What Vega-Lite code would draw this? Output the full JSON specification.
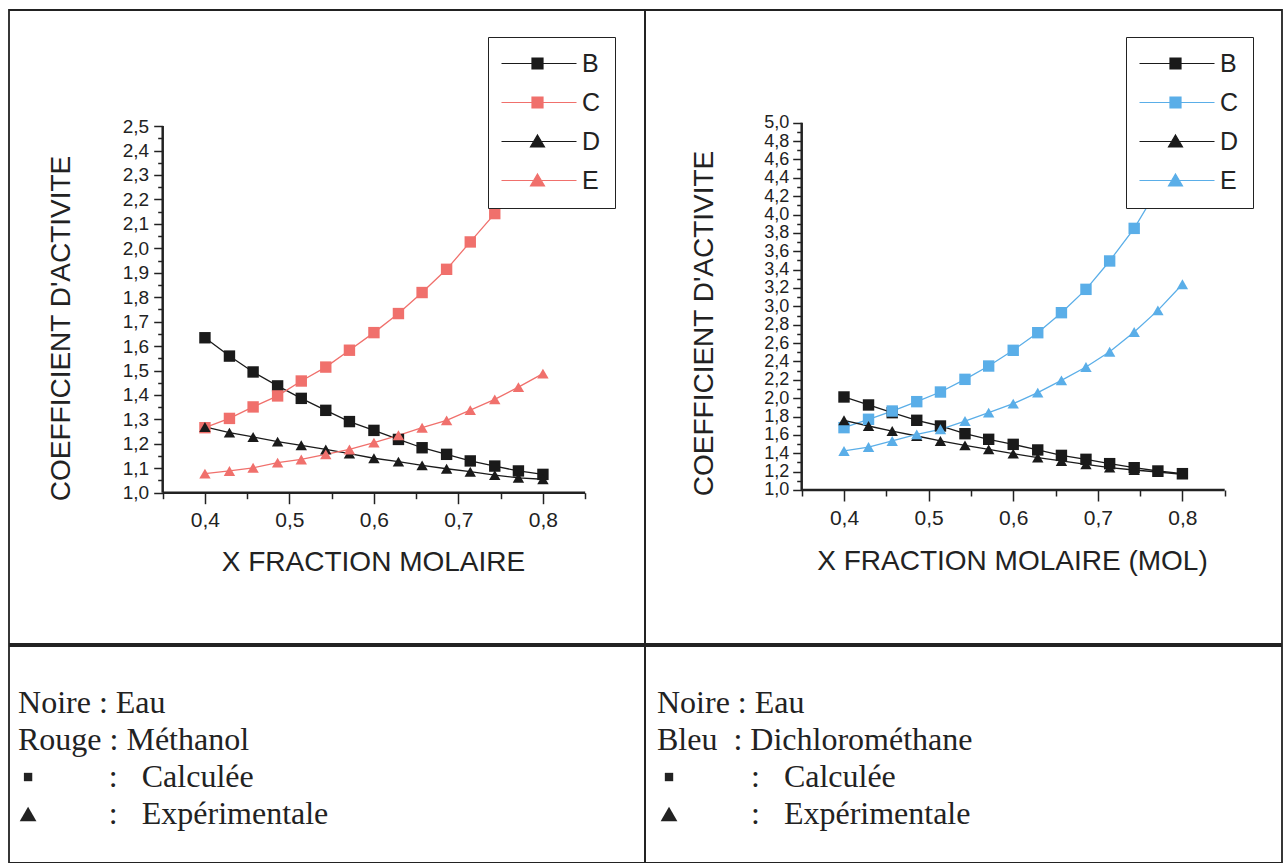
{
  "$schema": "https://vega.github.io/schema/vega-lite/v6.json",
  "padding": {"left": 8, "top": 9, "right": 0, "bottom": 0},
  "background": "white",
  "spacing": 0,
  "config": {
    "view": {"stroke": "#222", "strokeWidth": 1.8},
    "axis": {"grid": false, "domain": false, "labelFont": "Liberation Sans", "titleFont": "Liberation Sans", "labelColor": "#222", "titleColor": "#222", "tickColor": "#222", "titleFontWeight": "normal", "labelOverlap": false, "labelFlush": false, "tickWidth": 1.5}
  },
  "datasets": {
    "methanol": [
      {"x":0.4,"serie":"B","y":1.634},{"x":0.429,"serie":"B","y":1.559},{"x":0.457,"serie":"B","y":1.494},{"x":0.486,"serie":"B","y":1.437},{"x":0.514,"serie":"B","y":1.386},{"x":0.543,"serie":"B","y":1.337},{"x":0.571,"serie":"B","y":1.291},{"x":0.6,"serie":"B","y":1.255},{"x":0.629,"serie":"B","y":1.218},{"x":0.657,"serie":"B","y":1.184},{"x":0.686,"serie":"B","y":1.157},{"x":0.714,"serie":"B","y":1.13},{"x":0.743,"serie":"B","y":1.109},{"x":0.771,"serie":"B","y":1.089},{"x":0.8,"serie":"B","y":1.075},
      {"x":0.4,"serie":"C","y":1.266},{"x":0.429,"serie":"C","y":1.304},{"x":0.457,"serie":"C","y":1.351},{"x":0.486,"serie":"C","y":1.396},{"x":0.514,"serie":"C","y":1.457},{"x":0.543,"serie":"C","y":1.514},{"x":0.571,"serie":"C","y":1.583},{"x":0.6,"serie":"C","y":1.655},{"x":0.629,"serie":"C","y":1.733},{"x":0.657,"serie":"C","y":1.819},{"x":0.686,"serie":"C","y":1.914},{"x":0.714,"serie":"C","y":2.026},{"x":0.743,"serie":"C","y":2.142},{"x":0.771,"serie":"C","y":2.28},{"x":0.8,"serie":"C","y":2.44},
      {"x":0.4,"serie":"D","y":1.269},{"x":0.429,"serie":"D","y":1.246},{"x":0.457,"serie":"D","y":1.228},{"x":0.486,"serie":"D","y":1.209},{"x":0.514,"serie":"D","y":1.194},{"x":0.543,"serie":"D","y":1.177},{"x":0.571,"serie":"D","y":1.16},{"x":0.6,"serie":"D","y":1.141},{"x":0.629,"serie":"D","y":1.127},{"x":0.657,"serie":"D","y":1.112},{"x":0.686,"serie":"D","y":1.098},{"x":0.714,"serie":"D","y":1.086},{"x":0.743,"serie":"D","y":1.072},{"x":0.771,"serie":"D","y":1.061},{"x":0.8,"serie":"D","y":1.055},
      {"x":0.4,"serie":"E","y":1.078},{"x":0.429,"serie":"E","y":1.089},{"x":0.457,"serie":"E","y":1.102},{"x":0.486,"serie":"E","y":1.123},{"x":0.514,"serie":"E","y":1.136},{"x":0.543,"serie":"E","y":1.157},{"x":0.571,"serie":"E","y":1.177},{"x":0.6,"serie":"E","y":1.205},{"x":0.629,"serie":"E","y":1.235},{"x":0.657,"serie":"E","y":1.266},{"x":0.686,"serie":"E","y":1.296},{"x":0.714,"serie":"E","y":1.338},{"x":0.743,"serie":"E","y":1.382},{"x":0.771,"serie":"E","y":1.432},{"x":0.8,"serie":"E","y":1.487}
    ],
    "dichloro": [
      {"x":0.4,"serie":"B","y":2.013},{"x":0.429,"serie":"B","y":1.926},{"x":0.457,"serie":"B","y":1.842},{"x":0.486,"serie":"B","y":1.759},{"x":0.514,"serie":"B","y":1.697},{"x":0.543,"serie":"B","y":1.613},{"x":0.571,"serie":"B","y":1.552},{"x":0.6,"serie":"B","y":1.497},{"x":0.629,"serie":"B","y":1.436},{"x":0.657,"serie":"B","y":1.377},{"x":0.686,"serie":"B","y":1.334},{"x":0.714,"serie":"B","y":1.287},{"x":0.743,"serie":"B","y":1.243},{"x":0.771,"serie":"B","y":1.207},{"x":0.8,"serie":"B","y":1.178},
      {"x":0.4,"serie":"C","y":1.679},{"x":0.429,"serie":"C","y":1.77},{"x":0.457,"serie":"C","y":1.86},{"x":0.486,"serie":"C","y":1.962},{"x":0.514,"serie":"C","y":2.067},{"x":0.543,"serie":"C","y":2.205},{"x":0.571,"serie":"C","y":2.35},{"x":0.6,"serie":"C","y":2.521},{"x":0.629,"serie":"C","y":2.713},{"x":0.657,"serie":"C","y":2.931},{"x":0.686,"serie":"C","y":3.185},{"x":0.714,"serie":"C","y":3.494},{"x":0.743,"serie":"C","y":3.849},{"x":0.771,"serie":"C","y":4.28},{"x":0.8,"serie":"C","y":4.78},
      {"x":0.4,"serie":"D","y":1.759},{"x":0.429,"serie":"D","y":1.697},{"x":0.457,"serie":"D","y":1.642},{"x":0.486,"serie":"D","y":1.588},{"x":0.514,"serie":"D","y":1.534},{"x":0.543,"serie":"D","y":1.486},{"x":0.571,"serie":"D","y":1.443},{"x":0.6,"serie":"D","y":1.396},{"x":0.629,"serie":"D","y":1.352},{"x":0.657,"serie":"D","y":1.316},{"x":0.686,"serie":"D","y":1.279},{"x":0.714,"serie":"D","y":1.243},{"x":0.743,"serie":"D","y":1.218},{"x":0.771,"serie":"D","y":1.196},{"x":0.8,"serie":"D","y":1.171},
      {"x":0.4,"serie":"E","y":1.425},{"x":0.429,"serie":"E","y":1.468},{"x":0.457,"serie":"E","y":1.534},{"x":0.486,"serie":"E","y":1.606},{"x":0.514,"serie":"E","y":1.661},{"x":0.543,"serie":"E","y":1.751},{"x":0.571,"serie":"E","y":1.842},{"x":0.6,"serie":"E","y":1.94},{"x":0.629,"serie":"E","y":2.06},{"x":0.657,"serie":"E","y":2.194},{"x":0.686,"serie":"E","y":2.339},{"x":0.714,"serie":"E","y":2.506},{"x":0.743,"serie":"E","y":2.72},{"x":0.771,"serie":"E","y":2.956},{"x":0.8,"serie":"E","y":3.24}
    ],
    "texteGauche": [
      {"ligne":1,"texte":"Noire : Eau"},
      {"ligne":2,"texte":"Rouge : Méthanol"},
      {"ligne":3,"symbole":"square","texte":":\u00a0\u00a0\u00a0Calculée"},
      {"ligne":4,"symbole":"triangle-up","texte":":\u00a0\u00a0\u00a0Expérimentale"}
    ],
    "texteDroite": [
      {"ligne":1,"texte":"Noire : Eau"},
      {"ligne":2,"texte":"Bleu\u00a0\u00a0: Dichlorométhane"},
      {"ligne":3,"symbole":"square","texte":":\u00a0\u00a0\u00a0Calculée"},
      {"ligne":4,"symbole":"triangle-up","texte":":\u00a0\u00a0\u00a0Expérimentale"}
    ]
  },
  "resolve": {"scale": {"color": "independent", "shape": "independent"}, "legend": {"color": "independent", "shape": "independent"}},
  "vconcat": [
    {
      "hconcat": [
        {
          "width": 636, "height": 634,
          "data": {"name": "methanol"},
          "resolve": {"axis": {"x": "independent", "y": "independent"}},
          "layer": [
            {
              "data": {"values": [{}]},
              "mark": {"type": "rule", "color": "#222", "strokeWidth": 2.5},
              "encoding": {
                "x": {"datum": 0.35, "type": "quantitative", "scale": {"domain": [0.1681, 0.9208], "nice": false, "zero": false},
                  "axis": {"orient": "bottom", "offset": -151.3, "values": [0.4, 0.5, 0.6, 0.7, 0.8], "labelExpr": "replace(format(datum.value, '.1f'), '.', ',')", "tickSize": 11, "labelPadding": 6, "labelFontSize": 21, "title": "X FRACTION MOLAIRE", "titleFontSize": 28, "titleX": 364, "titleY": 78, "titleBaseline": "alphabetic", "titleAlign": "center"}},
                "y": {"datum": 1.0, "type": "quantitative", "scale": {"domain": [0.381, 2.975], "nice": false, "zero": false},
                  "axis": {"orient": "left", "offset": -153.7, "values": [1.0, 1.1, 1.2, 1.3, 1.4, 1.5, 1.6, 1.7, 1.8, 1.9, 2.0, 2.1, 2.2, 2.3, 2.4, 2.5], "labelExpr": "replace(format(datum.value, '.1f'), '.', ',')", "tickSize": 9, "labelPadding": 5, "labelFontSize": 19, "labelBaseline": "middle", "title": "COEFFICIENT D'ACTIVITE", "titleFontSize": 28, "titleX": -93, "titleY": 318, "titleAngle": -90, "titleBaseline": "alphabetic", "titleAlign": "center"}},
                "y2": {"datum": 2.5}
              }
            },
            {
              "data": {"values": [{}]},
              "mark": {"type": "rule", "color": "#222", "strokeWidth": 2.5},
              "encoding": {
                "x": {"datum": 0.35, "type": "quantitative", "scale": {"domain": [0.1681, 0.9208], "nice": false, "zero": false},
                  "axis": {"orient": "bottom", "offset": -151.3, "values": [0.35, 0.45, 0.55, 0.65, 0.75, 0.85], "labels": false, "tickSize": 6, "title": null}},
                "x2": {"datum": 0.85},
                "y": {"datum": 1.0, "type": "quantitative", "scale": {"domain": [0.381, 2.975], "nice": false, "zero": false},
                  "axis": {"orient": "left", "offset": -153.7, "values": [1.05, 1.15, 1.25, 1.35, 1.45, 1.55, 1.65, 1.75, 1.85, 1.95, 2.05, 2.15, 2.25, 2.35, 2.45], "labels": false, "tickSize": 5, "title": null}}
              }
            },
            {
              "mark": {"type": "line", "strokeWidth": 1.3},
              "encoding": {
                "x": {"field": "x", "type": "quantitative", "scale": {"domain": [0.1681, 0.9208], "nice": false, "zero": false}, "axis": null},
                "y": {"field": "y", "type": "quantitative", "scale": {"domain": [0.381, 2.975], "nice": false, "zero": false}, "axis": null},
                "color": {"field": "serie", "type": "nominal", "scale": {"domain": ["B", "C", "D", "E"], "range": ["#1a1a1a", "#f0706c", "#1a1a1a", "#f0706c"]},
                  "legend": {"orient": "none", "legendX": 479, "legendY": 27, "title": null, "fillColor": "white", "strokeColor": "#222", "padding": 14, "rowPadding": 13, "symbolSize": 400, "symbolOffset": 23, "labelOffset": 32, "labelFont": "Liberation Sans", "labelFontSize": 25, "labelColor": "#222", "symbolStrokeWidth": 1.2,
                    "symbolType": {"expr": "datum.value === 'B' || datum.value === 'C' ? 'M-3.6,0H3.9M-0.55,-0.55H0.55V0.55H-0.55Z' : 'M-3.6,0H3.9M0,-0.65L0.7,0.55H-0.7Z'"}}}
              }
            },
            {
              "transform": [{"filter": "datum.serie === 'B' || datum.serie === 'C'"}],
              "mark": {"type": "point", "shape": "square", "filled": true, "opacity": 1, "size": 130},
              "encoding": {
                "x": {"field": "x", "type": "quantitative", "scale": {"domain": [0.1681, 0.9208], "nice": false, "zero": false}, "axis": null},
                "y": {"field": "y", "type": "quantitative", "scale": {"domain": [0.381, 2.975], "nice": false, "zero": false}, "axis": null},
                "color": {"field": "serie", "type": "nominal", "scale": {"domain": ["B", "C", "D", "E"], "range": ["#1a1a1a", "#f0706c", "#1a1a1a", "#f0706c"]},
                  "legend": {"orient": "none", "legendX": 479, "legendY": 27, "title": null, "fillColor": "white", "strokeColor": "#222", "padding": 14, "rowPadding": 13, "symbolSize": 400, "symbolOffset": 23, "labelOffset": 32, "labelFont": "Liberation Sans", "labelFontSize": 25, "labelColor": "#222", "symbolStrokeWidth": 1.2,
                    "symbolType": {"expr": "datum.value === 'B' || datum.value === 'C' ? 'M-3.6,0H3.9M-0.55,-0.55H0.55V0.55H-0.55Z' : 'M-3.6,0H3.9M0,-0.65L0.7,0.55H-0.7Z'"}}}
              }
            },
            {
              "transform": [{"filter": "datum.serie === 'D' || datum.serie === 'E'"}],
              "mark": {"type": "point", "shape": "triangle-up", "filled": true, "opacity": 1, "size": 130},
              "encoding": {
                "x": {"field": "x", "type": "quantitative", "scale": {"domain": [0.1681, 0.9208], "nice": false, "zero": false}, "axis": null},
                "y": {"field": "y", "type": "quantitative", "scale": {"domain": [0.381, 2.975], "nice": false, "zero": false}, "axis": null},
                "color": {"field": "serie", "type": "nominal", "scale": {"domain": ["B", "C", "D", "E"], "range": ["#1a1a1a", "#f0706c", "#1a1a1a", "#f0706c"]},
                  "legend": {"orient": "none", "legendX": 479, "legendY": 27, "title": null, "fillColor": "white", "strokeColor": "#222", "padding": 14, "rowPadding": 13, "symbolSize": 400, "symbolOffset": 23, "labelOffset": 32, "labelFont": "Liberation Sans", "labelFontSize": 25, "labelColor": "#222", "symbolStrokeWidth": 1.2,
                    "symbolType": {"expr": "datum.value === 'B' || datum.value === 'C' ? 'M-3.6,0H3.9M-0.55,-0.55H0.55V0.55H-0.55Z' : 'M-3.6,0H3.9M0,-0.65L0.7,0.55H-0.7Z'"}}}
              }
            }
          ]
        },
        {
          "width": 637, "height": 634,
          "data": {"name": "dichloro"},
          "resolve": {"axis": {"x": "independent", "y": "independent"}},
          "layer": [
            {
              "data": {"values": [{}]},
              "mark": {"type": "rule", "color": "#222", "strokeWidth": 2.5},
              "encoding": {
                "x": {"datum": 0.35, "type": "quantitative", "scale": {"domain": [0.1648, 0.9177], "nice": false, "zero": false},
                  "axis": {"orient": "bottom", "offset": -154, "values": [0.4, 0.5, 0.6, 0.7, 0.8], "labelExpr": "replace(format(datum.value, '.1f'), '.', ',')", "tickSize": 11, "labelPadding": 6, "labelFontSize": 21, "title": "X FRACTION MOLAIRE (MOL)", "titleFontSize": 28, "titleX": 367, "titleY": 79, "titleBaseline": "alphabetic", "titleAlign": "center"}},
                "y": {"datum": 1.0, "type": "quantitative", "scale": {"domain": [-0.677, 6.227], "nice": false, "zero": false},
                  "axis": {"orient": "left", "offset": -156.7, "values": [1.0, 1.2, 1.4, 1.6, 1.8, 2.0, 2.2, 2.4, 2.6, 2.8, 3.0, 3.2, 3.4, 3.6, 3.8, 4.0, 4.2, 4.4, 4.6, 4.8, 5.0], "labelExpr": "replace(format(datum.value, '.1f'), '.', ',')", "tickSize": 9, "labelPadding": 4, "labelFontSize": 18, "labelBaseline": "middle", "title": "COEFFICIENT D'ACTIVITE", "titleFontSize": 28, "titleX": -89, "titleY": 313, "titleAngle": -90, "titleBaseline": "alphabetic", "titleAlign": "center"}},
                "y2": {"datum": 5.0}
              }
            },
            {
              "data": {"values": [{}]},
              "mark": {"type": "rule", "color": "#222", "strokeWidth": 2.5},
              "encoding": {
                "x": {"datum": 0.35, "type": "quantitative", "scale": {"domain": [0.1648, 0.9177], "nice": false, "zero": false},
                  "axis": {"orient": "bottom", "offset": -154, "values": [0.35, 0.45, 0.55, 0.65, 0.75, 0.85], "labels": false, "tickSize": 6, "title": null}},
                "x2": {"datum": 0.85},
                "y": {"datum": 1.0, "type": "quantitative", "scale": {"domain": [-0.677, 6.227], "nice": false, "zero": false},
                  "axis": {"orient": "left", "offset": -156.7, "values": [1.1, 1.3, 1.5, 1.7, 1.9, 2.1, 2.3, 2.5, 2.7, 2.9, 3.1, 3.3, 3.5, 3.7, 3.9, 4.1, 4.3, 4.5, 4.7, 4.9], "labels": false, "tickSize": 5, "title": null}}
              }
            },
            {
              "mark": {"type": "line", "strokeWidth": 1.3},
              "encoding": {
                "x": {"field": "x", "type": "quantitative", "scale": {"domain": [0.1648, 0.9177], "nice": false, "zero": false}, "axis": null},
                "y": {"field": "y", "type": "quantitative", "scale": {"domain": [-0.677, 6.227], "nice": false, "zero": false}, "axis": null},
                "color": {"field": "serie", "type": "nominal", "scale": {"domain": ["B", "C", "D", "E"], "range": ["#1a1a1a", "#5aaee8", "#1a1a1a", "#5aaee8"]},
                  "legend": {"orient": "none", "legendX": 481, "legendY": 27, "title": null, "fillColor": "white", "strokeColor": "#222", "padding": 14, "rowPadding": 13, "symbolSize": 400, "symbolOffset": 23, "labelOffset": 32, "labelFont": "Liberation Sans", "labelFontSize": 25, "labelColor": "#222", "symbolStrokeWidth": 1.2,
                    "symbolType": {"expr": "datum.value === 'B' || datum.value === 'C' ? 'M-3.6,0H3.9M-0.55,-0.55H0.55V0.55H-0.55Z' : 'M-3.6,0H3.9M0,-0.65L0.7,0.55H-0.7Z'"}}}
              }
            },
            {
              "transform": [{"filter": "datum.serie === 'B' || datum.serie === 'C'"}],
              "mark": {"type": "point", "shape": "square", "filled": true, "opacity": 1, "size": 130},
              "encoding": {
                "x": {"field": "x", "type": "quantitative", "scale": {"domain": [0.1648, 0.9177], "nice": false, "zero": false}, "axis": null},
                "y": {"field": "y", "type": "quantitative", "scale": {"domain": [-0.677, 6.227], "nice": false, "zero": false}, "axis": null},
                "color": {"field": "serie", "type": "nominal", "scale": {"domain": ["B", "C", "D", "E"], "range": ["#1a1a1a", "#5aaee8", "#1a1a1a", "#5aaee8"]},
                  "legend": {"orient": "none", "legendX": 481, "legendY": 27, "title": null, "fillColor": "white", "strokeColor": "#222", "padding": 14, "rowPadding": 13, "symbolSize": 400, "symbolOffset": 23, "labelOffset": 32, "labelFont": "Liberation Sans", "labelFontSize": 25, "labelColor": "#222", "symbolStrokeWidth": 1.2,
                    "symbolType": {"expr": "datum.value === 'B' || datum.value === 'C' ? 'M-3.6,0H3.9M-0.55,-0.55H0.55V0.55H-0.55Z' : 'M-3.6,0H3.9M0,-0.65L0.7,0.55H-0.7Z'"}}}
              }
            },
            {
              "transform": [{"filter": "datum.serie === 'D' || datum.serie === 'E'"}],
              "mark": {"type": "point", "shape": "triangle-up", "filled": true, "opacity": 1, "size": 130},
              "encoding": {
                "x": {"field": "x", "type": "quantitative", "scale": {"domain": [0.1648, 0.9177], "nice": false, "zero": false}, "axis": null},
                "y": {"field": "y", "type": "quantitative", "scale": {"domain": [-0.677, 6.227], "nice": false, "zero": false}, "axis": null},
                "color": {"field": "serie", "type": "nominal", "scale": {"domain": ["B", "C", "D", "E"], "range": ["#1a1a1a", "#5aaee8", "#1a1a1a", "#5aaee8"]},
                  "legend": {"orient": "none", "legendX": 481, "legendY": 27, "title": null, "fillColor": "white", "strokeColor": "#222", "padding": 14, "rowPadding": 13, "symbolSize": 400, "symbolOffset": 23, "labelOffset": 32, "labelFont": "Liberation Sans", "labelFontSize": 25, "labelColor": "#222", "symbolStrokeWidth": 1.2,
                    "symbolType": {"expr": "datum.value === 'B' || datum.value === 'C' ? 'M-3.6,0H3.9M-0.55,-0.55H0.55V0.55H-0.55Z' : 'M-3.6,0H3.9M0,-0.65L0.7,0.55H-0.7Z'"}}}
              }
            }
          ]
        }
      ],
      "spacing": 0,
      "bounds": "flush",
      "resolve": {"scale": {"color": "independent", "shape": "independent"}, "legend": {"color": "independent", "shape": "independent"}}
    },
    {
      "hconcat": [
        {
          "width": 636, "height": 217,
          "data": {"name": "texteGauche"},
          "layer": [
            {
              "transform": [{"filter": "datum.ligne <= 2"}],
              "mark": {"type": "text", "align": "left", "baseline": "middle", "font": "Liberation Serif", "fontSize": 32, "color": "#222"},
              "encoding": {
                "x": {"datum": 0.0142, "type": "quantitative", "scale": {"domain": [0, 1]}, "axis": null},
                "y": {"field": "ligne", "type": "quantitative", "scale": {"domain": [-0.541, 5.324], "reverse": true, "nice": false, "zero": false}, "axis": null},
                "text": {"field": "texte"}
              }
            },
            {
              "transform": [{"filter": "datum.ligne >= 3"}],
              "mark": {"type": "text", "align": "left", "baseline": "middle", "font": "Liberation Serif", "fontSize": 32, "color": "#222"},
              "encoding": {
                "x": {"datum": 0.157, "type": "quantitative", "scale": {"domain": [0, 1]}, "axis": null},
                "y": {"field": "ligne", "type": "quantitative", "scale": {"domain": [-0.541, 5.324], "reverse": true, "nice": false, "zero": false}, "axis": null},
                "text": {"field": "texte"}
              }
            },
            {
              "transform": [{"filter": "datum.ligne >= 3"}],
              "mark": {"type": "point", "filled": true, "opacity": 1, "color": "#222"},
              "encoding": {
                "x": {"datum": 0.03, "type": "quantitative", "scale": {"domain": [0, 1]}, "axis": null},
                "y": {"field": "ligne", "type": "quantitative", "scale": {"domain": [-0.541, 5.324], "reverse": true, "nice": false, "zero": false}, "axis": null},
                "shape": {"field": "symbole", "type": "nominal", "scale": null},
                "size": {"condition": {"test": "datum.symbole === 'square'", "value": 70}, "value": 280}
              }
            }
          ]
        },
        {
          "width": 637, "height": 217,
          "data": {"name": "texteDroite"},
          "layer": [
            {
              "transform": [{"filter": "datum.ligne <= 2"}],
              "mark": {"type": "text", "align": "left", "baseline": "middle", "font": "Liberation Serif", "fontSize": 32, "color": "#222"},
              "encoding": {
                "x": {"datum": 0.0188, "type": "quantitative", "scale": {"domain": [0, 1]}, "axis": null},
                "y": {"field": "ligne", "type": "quantitative", "scale": {"domain": [-0.541, 5.324], "reverse": true, "nice": false, "zero": false}, "axis": null},
                "text": {"field": "texte"}
              }
            },
            {
              "transform": [{"filter": "datum.ligne >= 3"}],
              "mark": {"type": "text", "align": "left", "baseline": "middle", "font": "Liberation Serif", "fontSize": 32, "color": "#222"},
              "encoding": {
                "x": {"datum": 0.1664, "type": "quantitative", "scale": {"domain": [0, 1]}, "axis": null},
                "y": {"field": "ligne", "type": "quantitative", "scale": {"domain": [-0.541, 5.324], "reverse": true, "nice": false, "zero": false}, "axis": null},
                "text": {"field": "texte"}
              }
            },
            {
              "transform": [{"filter": "datum.ligne >= 3"}],
              "mark": {"type": "point", "filled": true, "opacity": 1, "color": "#222"},
              "encoding": {
                "x": {"datum": 0.0377, "type": "quantitative", "scale": {"domain": [0, 1]}, "axis": null},
                "y": {"field": "ligne", "type": "quantitative", "scale": {"domain": [-0.541, 5.324], "reverse": true, "nice": false, "zero": false}, "axis": null},
                "shape": {"field": "symbole", "type": "nominal", "scale": null},
                "size": {"condition": {"test": "datum.symbole === 'square'", "value": 70}, "value": 280}
              }
            }
          ]
        }
      ],
      "spacing": 0,
      "bounds": "flush"
    }
  ]
}
